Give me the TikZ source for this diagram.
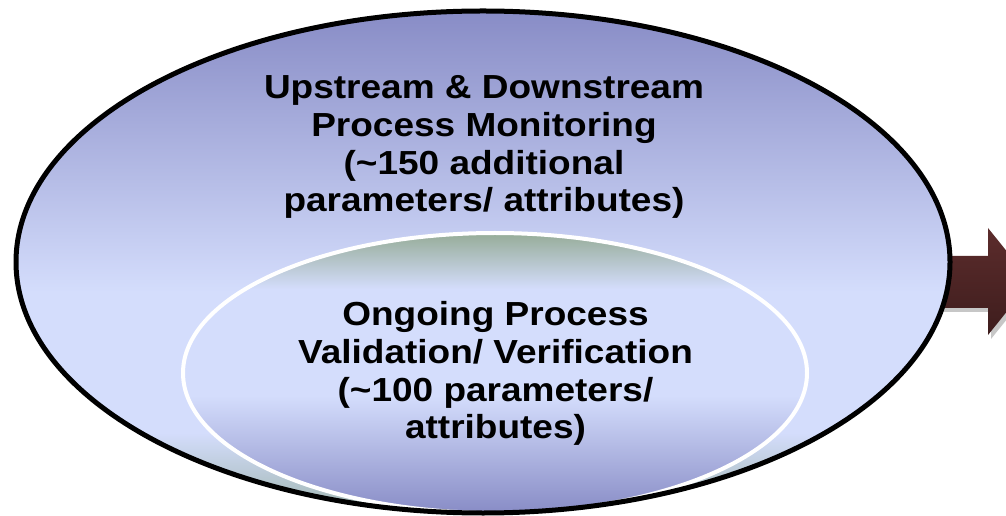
\documentclass[tikz,border=0pt]{standalone}
\usepackage{fontspec}
\setmainfont{Liberation Sans}[FakeStretch=1.11]
\usetikzlibrary{shapes.geometric}

\definecolor{ovaldark}{RGB}{136,140,198}
\definecolor{ovallight}{RGB}{212,221,252}
\definecolor{rimgreen}{RGB}{150,172,152}
\definecolor{basegray}{RGB}{160,182,176}
\definecolor{arrowtop}{RGB}{92,44,44}
\definecolor{arrowbot}{RGB}{62,29,29}

% vertical shadings: stops run from the bottom (0bp) to the top (100bp)
\pgfdeclareverticalshading{outerfill}{100bp}{color(0bp)=(basegray); color(25bp)=(basegray); color(33bp)=(ovallight); color(47bp)=(ovallight); color(75bp)=(ovaldark); color(100bp)=(ovaldark)}
\pgfdeclareverticalshading{innerfill}{100bp}{color(0bp)=(ovaldark); color(25bp)=(ovaldark); color(46bp)=(ovallight); color(65bp)=(ovallight); color(75bp)=(rimgreen); color(100bp)=(rimgreen)}

\tikzset{
  oval/.style={ellipse, inner sep=0pt, outer sep=0pt},
  linetext/.style={font=\bfseries\fontsize{25}{28}\selectfont, anchor=base, inner sep=0pt, text=black},
}

\begin{document}
\begin{tikzpicture}[x=0.75pt, y=-0.75pt]
\useasboundingbox (0,0) rectangle (1006,516);
\clip (0,0) rectangle (1006,516);

% block arrow leaving the right side, partly hidden behind the large oval
\fill[black, opacity=0.22, shift={(3,4)}]
  (940,256) -- (988,256) -- (988,228) -- (1031,281.5) -- (988,335) -- (988,308) -- (940,308) -- cycle;
\shade[top color=arrowtop, bottom color=arrowbot]
  (940,256) -- (988,256) -- (988,228) -- (1031,281.5) -- (988,335) -- (988,308) -- (940,308) -- cycle;

% large oval
\node[oval, minimum width=700.5pt, minimum height=376.5pt, shading=outerfill] (outer) at (483,262) {};

% inner oval
\node[oval, minimum width=468pt, minimum height=210pt, shading=innerfill, draw=white, line width=3pt] (inner) at (495,373) {};

% rim of the large oval
\draw[line width=3.75pt, black] (outer.center) ellipse [x radius=350.25pt, y radius=188.25pt];

% outer label
\node[linetext] (o1) at (484,99)    {Upstream \& Downstream};
\node[linetext] (o2) at (484,136.7) {Process Monitoring};
\node[linetext] (o3) at (484,174.3) {(\textasciitilde150 additional};
\node[linetext] (o4) at (484,212)   {parameters/ attributes)};

% inner label
\node[linetext] (i1) at (495.5,326)   {Ongoing Process};
\node[linetext] (i2) at (495.5,363.5) {Validation/ Verification};
\node[linetext] (i3) at (495.5,401)   {(\textasciitilde100 parameters/};
\node[linetext] (i4) at (495.5,438)   {attributes)};
\end{tikzpicture}
\end{document}
